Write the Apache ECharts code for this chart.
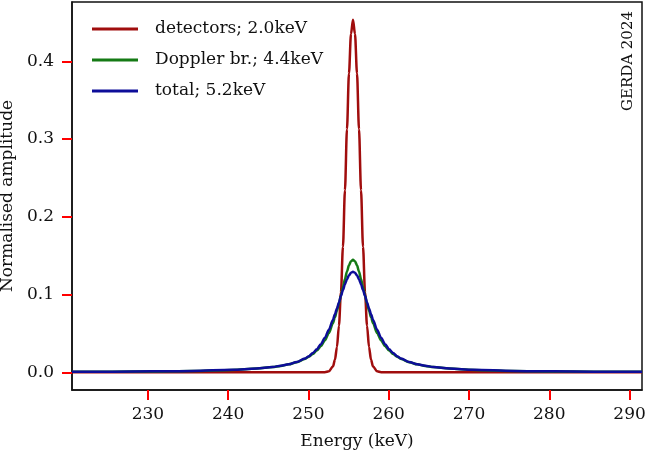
<!DOCTYPE html>
<html>
<head>
<meta charset="utf-8">
<script src="https://cdn.jsdelivr.net/npm/echarts@6/dist/echarts.min.js"></script>
<style>
html,body{margin:0;padding:0;background:#fff;}
#c{width:646px;height:457px;}
</style>
</head>
<body>
<div id="c"></div>
<script>
// Energy grid (keV)
const energy = [220.55,225.55,230.55,235.55,240.55,243.55,245.55,246.55,247.55,248.55,249.55,250.05,250.55,251.05,251.55,252.05,252.55,253.05,253.3,253.55,253.8,254.05,254.3,254.55,254.8,255.05,255.3,
  255.55,
  255.8,256.05,256.3,256.55,256.8,257.05,257.3,257.55,257.8,258.05,258.55,259.05,259.55,260.05,260.55,261.05,261.55,262.55,263.55,264.55,265.55,267.55,270.55,275.55,280.55,285.55,291.55];

const detectors = [0,0,0,0,0,0,0,0,0,0,0,0,0,0,0,0.0001,0.0012,0.0073,0.0160,0.0323,0.0600,0.1026,0.1615,0.2343,0.3127,0.3845,0.4352,
  0.4535,
  0.4352,0.3845,0.3127,0.2343,0.1615,0.1026,0.0600,0.0323,0.0160,0.0073,0.0012,0.0001,0,0,0,0,0,0,0,0,0,0,0,0,0,0,0];

const doppler = [0.00057,0.00077,0.00111,0.00173,0.00305,0.00471,0.00668,0.00816,0.0102,0.0130,0.0171,0.0200,0.0235,0.0279,0.0336,0.0410,0.0506,0.0631,0.0707,0.0792,0.0886,0.0988,0.1094,0.1199,0.1296,0.1376,0.1428,
  0.1447,
  0.1428,0.1376,0.1296,0.1199,0.1094,0.0988,0.0886,0.0792,0.0707,0.0631,0.0506,0.0410,0.0336,0.0279,0.0235,0.0200,0.0171,0.0130,0.0102,0.00816,0.00668,0.00471,0.00305,0.00173,0.00111,0.00077,0.00054];

const total = [0.00059,0.00080,0.00116,0.00179,0.00315,0.00484,0.00684,0.00831,0.0103,0.0132,0.0176,0.0207,0.0247,0.0297,0.0362,0.0445,0.0548,0.0674,0.0745,0.0821,0.0899,0.0980,0.1058,0.1132,0.1197,0.1248,0.1280,
  0.1292,
  0.1280,0.1248,0.1197,0.1132,0.1058,0.0980,0.0899,0.0821,0.0745,0.0674,0.0548,0.0445,0.0362,0.0297,0.0247,0.0207,0.0176,0.0132,0.0103,0.00831,0.00684,0.00484,0.00315,0.00179,0.00116,0.00080,0.00056];

const seriesNames = ['detectors; 2.0keV','Doppler br.; 4.4keV','total; 5.2keV'];
const xTicks = [230,240,250,260,270,280,290];
const yTicks = [0.0,0.1,0.2,0.3,0.4];

const FONT = 'DejaVu Serif';
const colors = ['#a00d0d','#157a15','#0d0d99'];
const TICK_LEN = 10;

function pairs(ys){ return energy.map((e,i)=>[e,ys[i]]); }

const chart = echarts.init(document.getElementById('c'));
chart.setOption({
  animation:false,
  grid:{left:72,right:4,top:2,bottom:67,outerBoundsMode:'none',show:true,borderColor:'#111',borderWidth:1.5},
  legend:{
    orient:'vertical',left:92,top:19,padding:0,
    itemWidth:46,itemHeight:3,itemGap:11,
    icon:'rect',
    textStyle:{fontFamily:FONT,fontSize:17,color:'#111',padding:[0,0,0,12],lineHeight:20},
    data:seriesNames
  },
  xAxis:{
    type:'value',min:220.55,max:291.55,
    axisLine:{show:true,onZero:false,lineStyle:{color:'#111',width:1.5}},
    splitLine:{show:false},
    axisTick:{show:true,length:TICK_LEN,lineStyle:{color:'#ff0000',width:2},customValues:xTicks},
    axisLabel:{margin:16,fontFamily:FONT,fontSize:17,color:'#111',customValues:xTicks,formatter:v=>String(v)},
    name:'Energy (keV)',nameLocation:'middle',nameGap:43,
    nameTextStyle:{fontFamily:FONT,fontSize:17,color:'#111'}
  },
  yAxis:{
    type:'value',min:-0.0228,max:0.4763,
    axisLine:{show:true,onZero:false,lineStyle:{color:'#111',width:1.5}},
    splitLine:{show:false},
    axisTick:{show:true,length:TICK_LEN,lineStyle:{color:'#ff0000',width:2},customValues:yTicks},
    axisLabel:{margin:18,fontFamily:FONT,fontSize:17,color:'#111',customValues:yTicks,formatter:v=>v.toFixed(1)},
    name:'Normalised amplitude',nameLocation:'middle',nameGap:46,nameRotate:90,
    nameTextStyle:{fontFamily:FONT,fontSize:17,color:'#111'}
  },
  graphic:[{
    type:'text',left:621,top:11,rotation:Math.PI/2,z:100,
    style:{text:'GERDA 2024',font:'15px "DejaVu Serif"',fill:'#111'}
  }],
  series:[
    {name:seriesNames[0],type:'line',data:pairs(detectors),showSymbol:false,smooth:0.3,smoothMonotone:'x',lineStyle:{color:colors[0],width:2.5},itemStyle:{color:colors[0]},clip:true,z:2},
    {name:seriesNames[1],type:'line',data:pairs(doppler),showSymbol:false,smooth:0.3,smoothMonotone:'x',lineStyle:{color:colors[1],width:2.5},itemStyle:{color:colors[1]},clip:true,z:3},
    {name:seriesNames[2],type:'line',data:pairs(total),showSymbol:false,smooth:0.3,smoothMonotone:'x',lineStyle:{color:colors[2],width:2.5},itemStyle:{color:colors[2]},clip:true,z:4}
  ]
});
</script>
</body>
</html>
